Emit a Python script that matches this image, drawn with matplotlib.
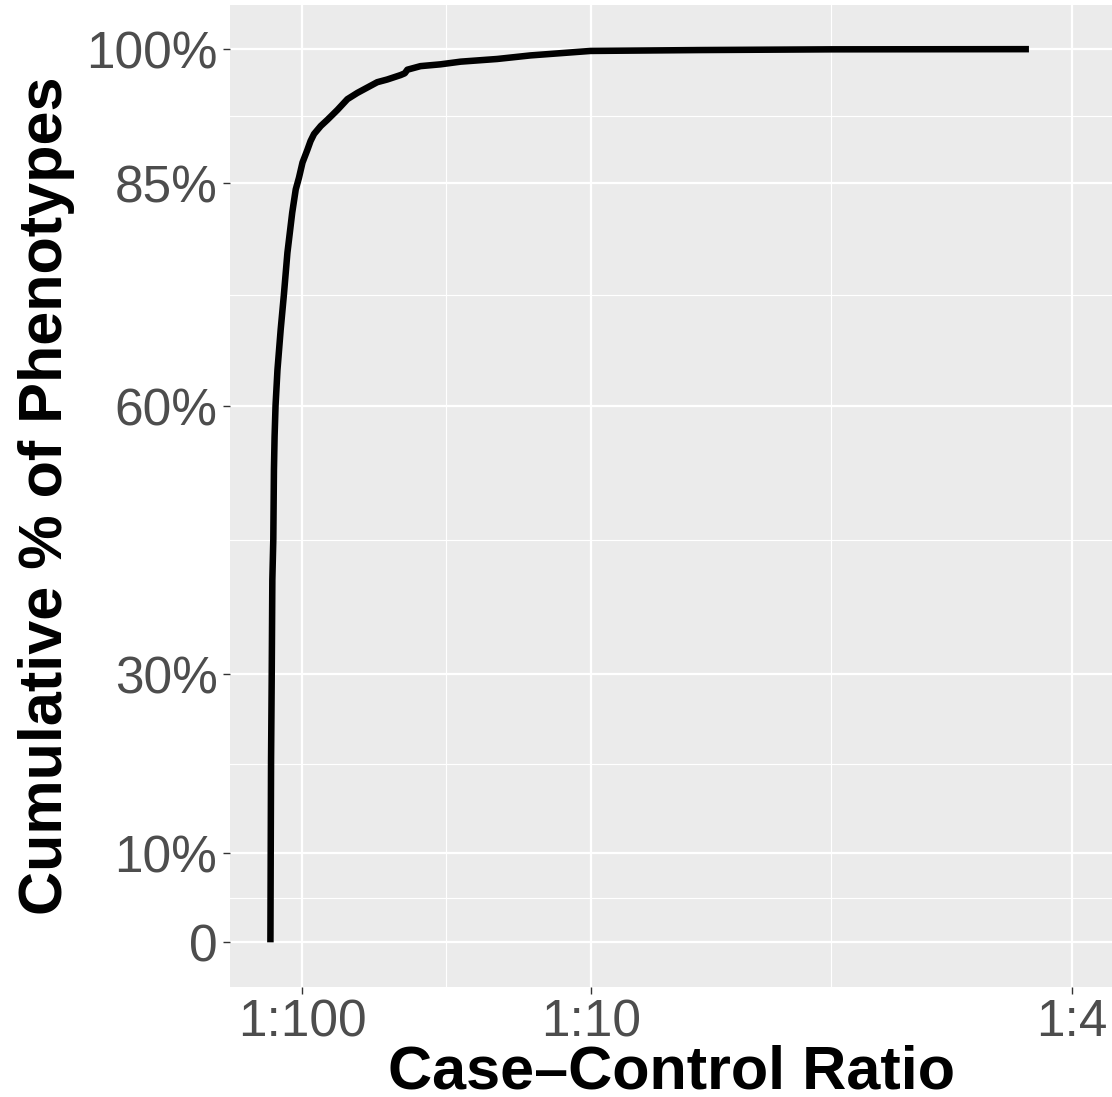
import matplotlib
matplotlib.use('Agg')
import matplotlib.pyplot as plt
import numpy as np

plt.rcParams['font.family'] = ['Liberation Sans', 'DejaVu Sans']

# razão caso:controle (casos/controles), ordenada
razao = [0.0001, 0.0002, 0.0003, 0.0005, 0.0007, 0.0010, 0.0012, 0.0014,
         0.0017, 0.0023, 0.0033, 0.0043, 0.0054, 0.0059, 0.0069, 0.0080,
         0.0090, 0.0101, 0.0116, 0.0126, 0.0137, 0.0158, 0.0179, 0.0210,
         0.0241, 0.0272, 0.0303, 0.0334, 0.0365, 0.0407, 0.0420, 0.0428,
         0.0469, 0.0531, 0.0594, 0.0708, 0.0812, 0.0999, 0.1340, 0.1750,
         0.2366]
# fração acumulada de fenótipos
acumulado = [0.0, 0.104, 0.204, 0.294, 0.406, 0.451, 0.529, 0.566,
             0.601, 0.641, 0.686, 0.725, 0.772, 0.787, 0.817, 0.843,
             0.856, 0.873, 0.887, 0.897, 0.905, 0.914, 0.921, 0.932,
             0.944, 0.951, 0.957, 0.963, 0.966, 0.971, 0.973, 0.977,
             0.981, 0.983, 0.986, 0.989, 0.993, 0.998, 0.999, 0.9998,
             1.0]

x_breaks = [0.01, 0.1, 0.25]
x_labels = ['1:100', '1:10', '1:4']
y_breaks = [0, 0.10, 0.30, 0.60, 0.85, 1.0]
y_labels = ['0', '10%', '30%', '60%', '85%', '100%']

fig = plt.figure(figsize=(11.12, 10.97), dpi=100)
ax = fig.add_axes([230 / 1112, 1 - 987 / 1097, 882 / 1112, 982.5 / 1097])
ax.set_facecolor('#EBEBEB')
for s in ax.spines.values():
    s.set_visible(False)

# Grade principal e secundária (secundária nos pontos médios)
ax.set_xticks(x_breaks)
ax.set_xticklabels(x_labels)
ax.set_yticks(y_breaks)
ax.set_yticklabels(y_labels)
x_minor = [(a + b) / 2 for a, b in zip(x_breaks[:-1], x_breaks[1:])]
y_minor = [(a + b) / 2 for a, b in zip(y_breaks[:-1], y_breaks[1:])]
ax.set_xticks(x_minor, minor=True)
ax.set_yticks(y_minor, minor=True)
ax.grid(which='major', color='white', linewidth=1.6)
ax.grid(which='minor', color='white', linewidth=0.8)
ax.set_axisbelow(True)
ax.tick_params(which='minor', length=0)
ax.tick_params(which='major', length=5, width=1, color='#333333',
               labelsize=37, labelcolor='#4D4D4D')
ax.tick_params(axis='y', pad=4)
ax.tick_params(axis='x', pad=3)

ax.plot(razao, acumulado, color='black', linewidth=4.7,
        solid_capstyle='butt', solid_joinstyle='round')

ax.set_xlim(-0.0125, 0.2625)
ax.set_ylim(-0.05, 1.05)

ax.set_xlabel('Case\u2013Control Ratio', fontsize=44, fontweight='bold',
              labelpad=-2)
ax.set_ylabel('Cumulative % of Phenotypes', fontsize=44, fontweight='bold',
              labelpad=8)

plt.savefig('out.png', dpi=100)
